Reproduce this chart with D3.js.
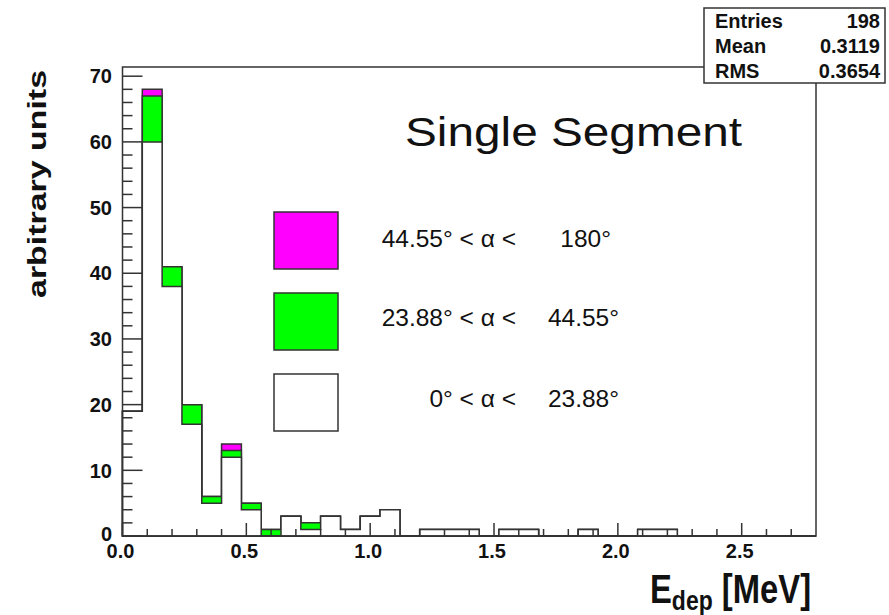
<!DOCTYPE html>
<html>
<head>
<meta charset="utf-8">
<script src="https://cdn.jsdelivr.net/npm/d3@7.9.0/dist/d3.min.js"></script>
<style>
  body { margin: 0; background: #fff; }
  svg { display: block; }
  text { font-family: "Liberation Sans", Arial, Helvetica, sans-serif; fill: #111; }
</style>
</head>
<body>
<svg id="chart" width="889" height="615"></svg>
<script>
// histogram data: 35 bins of 0.08 MeV from 0 to 2.8
const binWidth = 0.08;
const whiteCounts   = [19, 60, 38, 17, 5, 12, 4, 0, 3, 1, 3, 1, 3, 4, 0, 1, 1, 1, 0, 1, 1, 0, 0, 1, 0, 0, 1, 1, 0, 0, 0, 0, 0, 0, 0];
const greenCounts   = [0, 7, 3, 3, 1, 1, 1, 1, 0, 1, 0, 0, 0, 0, 0, 0, 0, 0, 0, 0, 0, 0, 0, 0, 0, 0, 0, 0, 0, 0, 0, 0, 0, 0, 0];
const magentaCounts = [0, 1, 0, 0, 0, 1, 0, 0, 0, 0, 0, 0, 0, 0, 0, 0, 0, 0, 0, 0, 0, 0, 0, 0, 0, 0, 0, 0, 0, 0, 0, 0, 0, 0, 0];

const legendLeft  = ['44.55° < α <', '23.88° < α <', '0° < α <'];
const legendRight = ['180°', '44.55°', '23.88°'];
const legendColors = ['#ff00ff', '#00ff00', '#ffffff'];

const statsNames  = ['Entries', 'Mean', 'RMS'];
const statsValues = ['198', '0.3119', '0.3654'];

const xMajor = [0, 0.5, 1.0, 1.5, 2.0, 2.5];
const yMajor = [0, 10, 20, 30, 40, 50, 60, 70];

const svg = d3.select('#chart');
const ink = '#333';

const x = d3.scaleLinear().domain([0, 2.8]).range([122.5, 816]);
const y = d3.scaleLinear().domain([0, 71.4]).range([536, 67]);

// cumulative stacks, drawn back to front
const greenStack = whiteCounts.map((d, i) => d + greenCounts[i]);
const totalStack = greenStack.map((d, i) => d + magentaCounts[i]);
const layers = [
  { counts: totalStack, fill: '#ff00ff' },
  { counts: greenStack, fill: '#00ff00' },
  { counts: whiteCounts, fill: '#ffffff' }
];

const line = d3.line().x(d => x(d[0])).y(d => y(d[1]));

function stepPoints(counts) {
  let pts = [[0, 0]];
  counts.forEach((c, i) => {
    pts.push([i * binWidth, c]);
    pts.push([(i + 1) * binWidth, c]);
  });
  pts.push([counts.length * binWidth, 0]);
  return pts;
}

layers.forEach(l => {
  svg.append('path')
    .attr('d', line(stepPoints(l.counts)) + 'Z')
    .attr('fill', l.fill)
    .attr('stroke', ink)
    .attr('stroke-width', 1.5);
});

// frame
svg.append('rect')
  .attr('x', x(0)).attr('y', y(71.4))
  .attr('width', x(2.8) - x(0)).attr('height', y(0) - y(71.4))
  .attr('fill', 'none').attr('stroke', ink).attr('stroke-width', 1.5);

// y ticks (pointing into the frame)
const yMinor = d3.range(0, 71, 2).filter(v => v % 10 !== 0);
function drawYTicks(vals, len) {
  svg.append('g').selectAll('line').data(vals).join('line')
    .attr('x1', x(0)).attr('x2', x(0) + len)
    .attr('y1', d => y(d)).attr('y2', d => y(d))
    .attr('stroke', ink).attr('stroke-width', 1.5);
}
drawYTicks(yMajor, 20);
drawYTicks(yMinor, 10);

svg.append('g').selectAll('text').data(yMajor).join('text')
  .attr('x', 112).attr('y', d => y(d) - (d === 0 ? 2 : 0)).attr('dy', '0.36em')
  .attr('text-anchor', 'end')
  .attr('font-size', 20).attr('font-weight', 'bold')
  .text(d => d);

// x ticks
const xMinor = d3.range(1, 28).map(v => v / 10).filter(v => Math.round(v * 10) % 5 !== 0);
function drawXTicks(vals, len) {
  svg.append('g').selectAll('line').data(vals).join('line')
    .attr('x1', d => x(d)).attr('x2', d => x(d))
    .attr('y1', y(0)).attr('y2', y(0) - len)
    .attr('stroke', ink).attr('stroke-width', 1.5);
}
drawXTicks(xMajor, 13);
drawXTicks(xMinor, 7);

svg.append('g').selectAll('text').data(xMajor).join('text')
  .attr('x', d => x(d) - 2).attr('y', 558)
  .attr('text-anchor', 'middle')
  .attr('font-size', 20).attr('font-weight', 'bold')
  .text(d => d.toFixed(1));

// axis titles
svg.append('text')
  .attr('transform', 'translate(46,184) rotate(-90)')
  .attr('text-anchor', 'middle')
  .attr('font-size', 26).attr('font-weight', 'bold')
  .attr('textLength', 228).attr('lengthAdjust', 'spacingAndGlyphs')
  .text('arbitrary units');

const xt = svg.append('text')
  .attr('transform', 'translate(650,603) scale(0.82,1)')
  .attr('font-size', 40).attr('font-weight', 'bold');
xt.append('tspan').text('E');
xt.append('tspan').attr('font-size', 28).attr('dy', 7).text('dep');
xt.append('tspan').attr('dy', -7).text(' [MeV]');

// title
svg.append('text')
  .attr('x', 405).attr('y', 146)
  .attr('font-family', '"Comic Sans MS", "Comic Neue", "DejaVu Sans", sans-serif')
  .attr('font-size', 41)
  .attr('textLength', 337).attr('lengthAdjust', 'spacingAndGlyphs')
  .text('Single Segment');

// legend
const rowTop = [212, 293, 374];
const rowBase = [247, 326, 407];
legendColors.forEach((c, i) => {
  svg.append('rect')
    .attr('x', 274).attr('y', rowTop[i])
    .attr('width', 64).attr('height', 57)
    .attr('fill', c).attr('stroke', ink).attr('stroke-width', 1.5);
  svg.append('text')
    .attr('x', 516).attr('y', rowBase[i])
    .attr('text-anchor', 'end').attr('font-size', 24.5)
    .attr('fill', '#222')
    .text(legendLeft[i]);
  svg.append('text')
    .attr('x', 619).attr('y', rowBase[i])
    .attr('text-anchor', 'end').attr('font-size', 24.5)
    .attr('fill', '#222')
    .attr('dx', i === 0 ? -8 : 0)
    .text(legendRight[i]);
});

// stats box
svg.append('rect')
  .attr('x', 704).attr('y', 8).attr('width', 181).attr('height', 75)
  .attr('fill', '#fff').attr('stroke', ink).attr('stroke-width', 1.5);
const statsBase = [28, 53, 78];
statsNames.forEach((n, i) => {
  svg.append('text')
    .attr('x', 715).attr('y', statsBase[i])
    .attr('font-size', 20).attr('font-weight', 'bold')
    .text(n);
  svg.append('text')
    .attr('x', 880).attr('y', statsBase[i])
    .attr('text-anchor', 'end')
    .attr('font-size', 20).attr('font-weight', 'bold')
    .text(statsValues[i]);
});
</script>
</body>
</html>
